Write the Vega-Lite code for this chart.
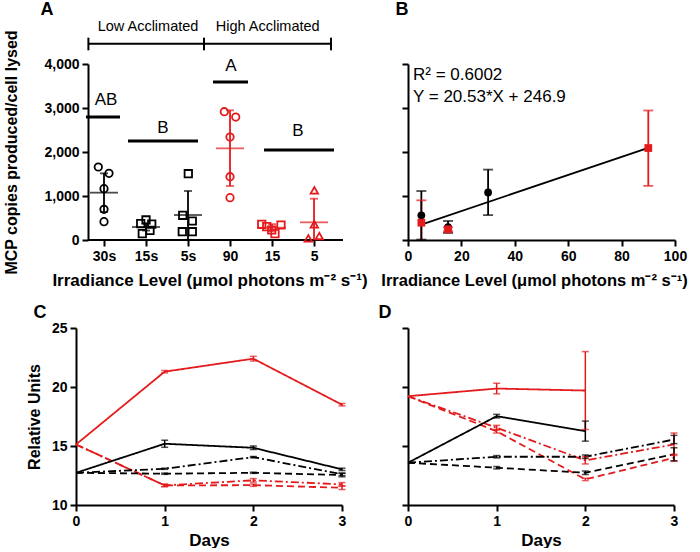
{
  "$schema": "https://vega.github.io/schema/vega-lite/v6.json",
  "background": "white",
  "padding": {"left": 3, "top": 0, "right": 0, "bottom": 0},
  "bounds": "flush",
  "columns": 2,
  "spacing": {"row": 88, "column": 65},
  "datasets": {
    "aBase": [{"x": 0.619, "x2": 6.69, "y": 0}],
    "aPts": [
      {"grp": "30s", "acclim": "Low", "x": 0.864, "value": 1659},
      {"grp": "30s", "acclim": "Low", "x": 1.119, "value": 1515},
      {"grp": "30s", "acclim": "Low", "x": 1.0, "value": 1167},
      {"grp": "30s", "acclim": "Low", "x": 1.0, "value": 697},
      {"grp": "30s", "acclim": "Low", "x": 1.0, "value": 417},
      {"grp": "15s", "acclim": "Low", "x": 2.0, "value": 455},
      {"grp": "15s", "acclim": "Low", "x": 1.874, "value": 371},
      {"grp": "15s", "acclim": "Low", "x": 2.136, "value": 360},
      {"grp": "15s", "acclim": "Low", "x": 1.912, "value": 144},
      {"grp": "15s", "acclim": "Low", "x": 2.095, "value": 220},
      {"grp": "5s", "acclim": "Low", "x": 3.007, "value": 1507},
      {"grp": "5s", "acclim": "Low", "x": 2.874, "value": 561},
      {"grp": "5s", "acclim": "Low", "x": 3.102, "value": 432},
      {"grp": "5s", "acclim": "Low", "x": 2.864, "value": 189},
      {"grp": "5s", "acclim": "Low", "x": 3.102, "value": 189},
      {"grp": "90", "acclim": "High", "x": 3.864, "value": 2916},
      {"grp": "90", "acclim": "High", "x": 4.136, "value": 2795},
      {"grp": "90", "acclim": "High", "x": 4.0, "value": 2341},
      {"grp": "90", "acclim": "High", "x": 4.0, "value": 1439},
      {"grp": "90", "acclim": "High", "x": 4.0, "value": 962},
      {"grp": "15", "acclim": "High", "x": 4.755, "value": 356},
      {"grp": "15", "acclim": "High", "x": 4.874, "value": 303},
      {"grp": "15", "acclim": "High", "x": 5.214, "value": 341},
      {"grp": "15", "acclim": "High", "x": 4.993, "value": 227},
      {"grp": "15", "acclim": "High", "x": 5.071, "value": 144},
      {"grp": "5", "acclim": "High", "x": 6.007, "value": 1129},
      {"grp": "5", "acclim": "High", "x": 6.007, "value": 356},
      {"grp": "5", "acclim": "High", "x": 5.864, "value": 38},
      {"grp": "5", "acclim": "High", "x": 6.126, "value": 90}
    ],
    "aSum": [
      {"x": 1, "acclim": "Low", "mean": 1076, "lo": 636, "hi": 1515},
      {"x": 2, "acclim": "Low", "mean": 295, "lo": 215, "hi": 380},
      {"x": 3, "acclim": "Low", "mean": 568, "lo": 5, "hi": 1114},
      {"x": 4, "acclim": "High", "mean": 2083, "lo": 1227, "hi": 2947},
      {"x": 5, "acclim": "High", "mean": 280, "lo": 200, "hi": 360},
      {"x": 6, "acclim": "High", "mean": 402, "lo": -135, "hi": 939}
    ],
    "aSig": [
      {"x": 0.571, "x2": 1.381, "y": 2795, "label": "AB", "tx": 1.048, "ty": 3180},
      {"x": 1.571, "x2": 3.238, "y": 2250, "label": "B", "tx": 2.405, "ty": 2545},
      {"x": 3.595, "x2": 4.429, "y": 3590, "label": "A", "tx": 4.024, "ty": 3955},
      {"x": 4.81, "x2": 6.476, "y": 2045, "label": "B", "tx": 5.619, "ty": 2477}
    ],
    "aBr": [{"x": 0.6286, "x2": 6.405, "y": 4461}],
    "aCap": [
      {"x": 0.6286, "y": 4311, "y2": 4598},
      {"x": 3.381, "y": 4311, "y2": 4598},
      {"x": 6.405, "y": 4311, "y2": 4598}
    ],
    "aLab": [
      {"x": 2.048, "y": 4841, "label": "Low Acclimated"},
      {"x": 4.897, "y": 4841, "label": "High Acclimated"}
    ],
    "aLetter": [{"x": -0.357, "y": 5230, "label": "A"}],
    "bFit": [{"x": 5, "value": 349.55}, {"x": 90, "value": 2094.6}],
    "bPts": [
      {"x": 5, "acclim": "High", "value": 393, "lo": -115, "hi": 902},
      {"x": 15, "acclim": "High", "value": 243, "lo": 200, "hi": 290},
      {"x": 90, "acclim": "High", "value": 2090, "lo": 1230, "hi": 2943},
      {"x": 5, "acclim": "Low", "value": 561, "lo": 10, "hi": 1113},
      {"x": 15, "acclim": "Low", "value": 295, "lo": 160, "hi": 432},
      {"x": 30, "acclim": "Low", "value": 1082, "lo": 566, "hi": 1600}
    ],
    "bText": [
      {"x": 1.87, "y": 3750, "label": "R² = 0.6002"},
      {"x": 1.87, "y": 3250, "label": "Y = 20.53*X + 246.9"}
    ],
    "bLetter": [{"x": -2.25, "y": 5230, "label": "B"}],
    "c": [
      {"acclim": "High", "shift": "Ctrl", "series": "High-90", "day": 0, "value": 15.13},
      {"acclim": "High", "shift": "Ctrl", "series": "High-90", "day": 1, "value": 21.3, "lo": 21.2, "hi": 21.4},
      {"acclim": "High", "shift": "Ctrl", "series": "High-90", "day": 2, "value": 22.4, "lo": 22.2, "hi": 22.6},
      {"acclim": "High", "shift": "Ctrl", "series": "High-90", "day": 3, "value": 18.5, "lo": 18.4, "hi": 18.6},
      {"acclim": "High", "shift": "15", "series": "High-15", "day": 0, "value": 15.13},
      {"acclim": "High", "shift": "15", "series": "High-15", "day": 1, "value": 11.66, "lo": 11.56, "hi": 11.76},
      {"acclim": "High", "shift": "15", "series": "High-15", "day": 2, "value": 11.68, "lo": 11.58, "hi": 11.78},
      {"acclim": "High", "shift": "15", "series": "High-15", "day": 3, "value": 11.46, "lo": 11.31, "hi": 11.61},
      {"acclim": "High", "shift": "5", "series": "High-5", "day": 0, "value": 15.13},
      {"acclim": "High", "shift": "5", "series": "High-5", "day": 1, "value": 11.66, "lo": 11.56, "hi": 11.76},
      {"acclim": "High", "shift": "5", "series": "High-5", "day": 2, "value": 12.09, "lo": 11.94, "hi": 12.24},
      {"acclim": "High", "shift": "5", "series": "High-5", "day": 3, "value": 11.75, "lo": 11.6, "hi": 11.9},
      {"acclim": "Low", "shift": "Ctrl", "series": "Low-30", "day": 0, "value": 12.73},
      {"acclim": "Low", "shift": "Ctrl", "series": "Low-30", "day": 1, "value": 15.19, "lo": 14.89, "hi": 15.49},
      {"acclim": "Low", "shift": "Ctrl", "series": "Low-30", "day": 2, "value": 14.85, "lo": 14.7, "hi": 15.0},
      {"acclim": "Low", "shift": "Ctrl", "series": "Low-30", "day": 3, "value": 13.02, "lo": 12.92, "hi": 13.12},
      {"acclim": "Low", "shift": "15", "series": "Low-15", "day": 0, "value": 12.73},
      {"acclim": "Low", "shift": "15", "series": "Low-15", "day": 1, "value": 12.65, "lo": 12.6, "hi": 12.7},
      {"acclim": "Low", "shift": "15", "series": "Low-15", "day": 2, "value": 12.73, "lo": 12.68, "hi": 12.78},
      {"acclim": "Low", "shift": "15", "series": "Low-15", "day": 3, "value": 12.54, "lo": 12.39, "hi": 12.69},
      {"acclim": "Low", "shift": "5", "series": "Low-5", "day": 0, "value": 12.73},
      {"acclim": "Low", "shift": "5", "series": "Low-5", "day": 1, "value": 13.07, "lo": 13.02, "hi": 13.12},
      {"acclim": "Low", "shift": "5", "series": "Low-5", "day": 2, "value": 14.06, "lo": 14.01, "hi": 14.11},
      {"acclim": "Low", "shift": "5", "series": "Low-5", "day": 3, "value": 12.6, "lo": 12.5, "hi": 12.7}
    ],
    "d": [
      {"acclim": "High", "shift": "Ctrl", "series": "High-90", "day": 0, "value": 19.22},
      {"acclim": "High", "shift": "Ctrl", "series": "High-90", "day": 1, "value": 19.87, "lo": 19.42, "hi": 20.32},
      {"acclim": "High", "shift": "Ctrl", "series": "High-90", "day": 2, "value": 19.7, "lo": 16.4, "hi": 23.0},
      {"acclim": "High", "shift": "15", "series": "High-15", "day": 0, "value": 19.22},
      {"acclim": "High", "shift": "15", "series": "High-15", "day": 1, "value": 16.25, "lo": 16.1, "hi": 16.4},
      {"acclim": "High", "shift": "15", "series": "High-15", "day": 2, "value": 12.17, "lo": 12.07, "hi": 12.27},
      {"acclim": "High", "shift": "15", "series": "High-15", "day": 3, "value": 14.0, "lo": 13.7, "hi": 14.3},
      {"acclim": "High", "shift": "5", "series": "High-5", "day": 0, "value": 19.22},
      {"acclim": "High", "shift": "5", "series": "High-5", "day": 1, "value": 16.55, "lo": 16.35, "hi": 16.75},
      {"acclim": "High", "shift": "5", "series": "High-5", "day": 2, "value": 13.78, "lo": 13.48, "hi": 14.08},
      {"acclim": "High", "shift": "5", "series": "High-5", "day": 3, "value": 15.13, "lo": 14.2, "hi": 16.1},
      {"acclim": "Low", "shift": "Ctrl", "series": "Low-30", "day": 0, "value": 13.58},
      {"acclim": "Low", "shift": "Ctrl", "series": "Low-30", "day": 1, "value": 17.53, "lo": 17.38, "hi": 17.68},
      {"acclim": "Low", "shift": "Ctrl", "series": "Low-30", "day": 2, "value": 16.26, "lo": 15.41, "hi": 17.11},
      {"acclim": "Low", "shift": "15", "series": "Low-15", "day": 0, "value": 13.58},
      {"acclim": "Low", "shift": "15", "series": "Low-15", "day": 1, "value": 13.16, "lo": 13.06, "hi": 13.26},
      {"acclim": "Low", "shift": "15", "series": "Low-15", "day": 2, "value": 12.73, "lo": 12.58, "hi": 12.88},
      {"acclim": "Low", "shift": "15", "series": "Low-15", "day": 3, "value": 14.3, "lo": 13.75, "hi": 14.85},
      {"acclim": "Low", "shift": "5", "series": "Low-5", "day": 0, "value": 13.58},
      {"acclim": "Low", "shift": "5", "series": "Low-5", "day": 1, "value": 14.09, "lo": 13.99, "hi": 14.19},
      {"acclim": "Low", "shift": "5", "series": "Low-5", "day": 2, "value": 14.09, "lo": 13.94, "hi": 14.24},
      {"acclim": "Low", "shift": "5", "series": "Low-5", "day": 3, "value": 15.55, "lo": 15.2, "hi": 15.9}
    ],
    "cLetter": [{"x": -0.406, "y": 26.27, "label": "C"}],
    "dLetter": [{"x": -0.26, "y": 26.27, "label": "D"}]
  },
  "concat": [
    {
      "width": 267,
      "height": 176,
      "layer": [
        {
          "data": {"name": "aBase"},
          "mark": {"type": "rule", "strokeWidth": 2, "color": "black"},
          "encoding": {
            "x": {"field": "x", "type": "quantitative", "scale": {"domain": [0.3333, 6.69], "nice": false, "zero": false},
              "axis": {"values": [1, 2, 3, 4, 5, 6], "labelExpr": "datum.value==1?'30s':datum.value==2?'15s':datum.value==3?'5s':datum.value==4?'90':datum.value==5?'15':'5'", "title": "Irradiance Level (μmol photons m⁻² s⁻¹)", "titleFontSize": 17, "domain": false, "titlePadding": 9}},
            "x2": {"field": "x2"},
            "y": {"field": "y", "type": "quantitative", "scale": {"domain": [0, 4000], "nice": false},
              "axis": {"values": [0, 1000, 2000, 3000, 4000], "format": ",.0f", "offset": -12, "title": "MCP copies produced/cell lysed", "titlePadding": 24}}
          }
        },
        {
          "data": {"name": "aSum"},
          "mark": {"type": "rule", "strokeWidth": 1.8, "clip": true},
          "encoding": {
            "x": {"field": "x", "type": "quantitative"},
            "y": {"field": "lo", "type": "quantitative"},
            "y2": {"field": "hi"},
            "color": {"field": "acclim", "type": "nominal", "scale": {"domain": ["Low", "High"], "range": ["black", "#e41a1c"]}, "legend": null}
          }
        },
        {
          "data": {"name": "aSum"},
          "mark": {"type": "tick", "orient": "horizontal", "size": 8, "thickness": 1.8, "clip": true},
          "encoding": {
            "x": {"field": "x", "type": "quantitative"},
            "y": {"field": "lo", "type": "quantitative"},
            "color": {"field": "acclim", "type": "nominal", "legend": null}
          }
        },
        {
          "data": {"name": "aSum"},
          "mark": {"type": "tick", "orient": "horizontal", "size": 8, "thickness": 1.8},
          "encoding": {
            "x": {"field": "x", "type": "quantitative"},
            "y": {"field": "hi", "type": "quantitative"},
            "color": {"field": "acclim", "type": "nominal", "legend": null}
          }
        },
        {
          "data": {"name": "aSum"},
          "mark": {"type": "tick", "orient": "horizontal", "size": 28, "thickness": 1.8},
          "encoding": {
            "x": {"field": "x", "type": "quantitative"},
            "y": {"field": "mean", "type": "quantitative"},
            "color": {"field": "acclim", "type": "nominal", "legend": null}
          }
        },
        {
          "data": {"name": "aPts"},
          "mark": {"type": "point", "filled": false, "strokeWidth": 1.8, "size": 55, "opacity": 1},
          "encoding": {
            "x": {"field": "x", "type": "quantitative"},
            "y": {"field": "value", "type": "quantitative"},
            "color": {"field": "acclim", "type": "nominal", "legend": null},
            "shape": {"field": "grp", "type": "nominal", "scale": {"domain": ["30s", "15s", "5s", "90", "15", "5"], "range": ["circle", "square", "square", "circle", "square", "triangle-up"]}, "legend": null}
          }
        },
        {
          "data": {"name": "aSig"},
          "mark": {"type": "rule", "strokeWidth": 3, "color": "black"},
          "encoding": {
            "x": {"field": "x", "type": "quantitative"},
            "x2": {"field": "x2"},
            "y": {"field": "y", "type": "quantitative"}
          }
        },
        {
          "data": {"name": "aSig"},
          "mark": {"type": "text", "fontSize": 17, "color": "black", "baseline": "middle", "align": "center"},
          "encoding": {
            "x": {"field": "tx", "type": "quantitative"},
            "y": {"field": "ty", "type": "quantitative"},
            "text": {"field": "label"}
          }
        },
        {
          "data": {"name": "aBr"},
          "mark": {"type": "rule", "strokeWidth": 2, "color": "black"},
          "encoding": {
            "x": {"field": "x", "type": "quantitative"},
            "x2": {"field": "x2"},
            "y": {"field": "y", "type": "quantitative"}
          }
        },
        {
          "data": {"name": "aCap"},
          "mark": {"type": "rule", "strokeWidth": 2, "color": "black"},
          "encoding": {
            "x": {"field": "x", "type": "quantitative"},
            "y": {"field": "y", "type": "quantitative"},
            "y2": {"field": "y2"}
          }
        },
        {
          "data": {"name": "aLab"},
          "mark": {"type": "text", "fontSize": 14.5, "color": "black", "baseline": "middle", "align": "center"},
          "encoding": {
            "x": {"field": "x", "type": "quantitative"},
            "y": {"field": "y", "type": "quantitative"},
            "text": {"field": "label"}
          }
        },
        {
          "data": {"name": "aLetter"},
          "mark": {"type": "text", "fontSize": 18, "fontWeight": "bold", "color": "black", "baseline": "middle", "align": "center"},
          "encoding": {
            "x": {"field": "x", "type": "quantitative"},
            "y": {"field": "y", "type": "quantitative"},
            "text": {"field": "label"}
          }
        }
      ]
    },
    {
      "width": 267,
      "height": 176,
      "layer": [
        {
          "data": {"name": "bFit"},
          "mark": {"type": "line", "strokeWidth": 1.8, "color": "black"},
          "encoding": {
            "x": {"field": "x", "type": "quantitative", "scale": {"domain": [0, 100], "nice": false},
              "axis": {"values": [0, 20, 40, 60, 80, 100], "format": "d", "title": "Irradiance Level (μmol photons m⁻² s⁻¹)", "titleFontSize": 16.5, "titleX": 126, "titlePadding": 9}},
            "y": {"field": "value", "type": "quantitative", "scale": {"domain": [0, 4000], "nice": false},
              "axis": {"values": [0, 1000, 2000, 3000, 4000], "labels": false, "title": ""}}
          }
        },
        {
          "data": {"name": "bPts"},
          "mark": {"type": "rule", "strokeWidth": 1.8, "clip": true},
          "encoding": {
            "x": {"field": "x", "type": "quantitative"},
            "y": {"field": "lo", "type": "quantitative"},
            "y2": {"field": "hi"},
            "color": {"field": "acclim", "type": "nominal", "scale": {"domain": ["Low", "High"], "range": ["black", "#e41a1c"]}, "legend": null}
          }
        },
        {
          "data": {"name": "bPts"},
          "mark": {"type": "tick", "orient": "horizontal", "size": 10, "thickness": 1.8, "clip": true},
          "encoding": {
            "x": {"field": "x", "type": "quantitative"},
            "y": {"field": "lo", "type": "quantitative"},
            "color": {"field": "acclim", "type": "nominal", "legend": null}
          }
        },
        {
          "data": {"name": "bPts"},
          "mark": {"type": "tick", "orient": "horizontal", "size": 10, "thickness": 1.8},
          "encoding": {
            "x": {"field": "x", "type": "quantitative"},
            "y": {"field": "hi", "type": "quantitative"},
            "color": {"field": "acclim", "type": "nominal", "legend": null}
          }
        },
        {
          "data": {"name": "bPts"},
          "mark": {"type": "point", "filled": true, "size": 60, "opacity": 1},
          "encoding": {
            "x": {"field": "x", "type": "quantitative"},
            "y": {"field": "value", "type": "quantitative"},
            "color": {"field": "acclim", "type": "nominal", "legend": null},
            "shape": {"field": "acclim", "type": "nominal", "scale": {"domain": ["Low", "High"], "range": ["circle", "square"]}, "legend": null},
            "order": {"field": "acclim", "sort": "descending"}
          }
        },
        {
          "data": {"name": "bText"},
          "mark": {"type": "text", "fontSize": 17, "color": "black", "baseline": "middle", "align": "left"},
          "encoding": {
            "x": {"field": "x", "type": "quantitative"},
            "y": {"field": "y", "type": "quantitative"},
            "text": {"field": "label"}
          }
        },
        {
          "data": {"name": "bLetter"},
          "mark": {"type": "text", "fontSize": 18, "fontWeight": "bold", "color": "black", "baseline": "middle", "align": "center"},
          "encoding": {
            "x": {"field": "x", "type": "quantitative"},
            "y": {"field": "y", "type": "quantitative"},
            "text": {"field": "label"}
          }
        }
      ]
    },
    {
      "width": 266,
      "height": 177,
      "layer": [
        {
          "data": {"name": "c"},
          "mark": {"type": "line", "strokeWidth": 1.8},
          "encoding": {
            "x": {"field": "day", "type": "quantitative", "scale": {"domain": [0, 3], "nice": false},
              "axis": {"values": [0, 1, 2, 3], "format": "d", "title": "Days", "titleFontSize": 17, "titlePadding": 4}},
            "y": {"field": "value", "type": "quantitative", "scale": {"domain": [10, 25], "nice": false, "zero": false},
              "axis": {"values": [10, 15, 20, 25], "format": "d", "title": "Relative Units", "titlePadding": 9}},
            "color": {"field": "acclim", "type": "nominal", "scale": {"domain": ["Low", "High"], "range": ["black", "#e41a1c"]}, "legend": null},
            "strokeDash": {"field": "shift", "type": "nominal", "scale": {"domain": ["Ctrl", "15", "5"], "range": [[1, 0], [7, 4], [8, 3, 2, 3]]}, "legend": null},
            "detail": {"field": "series"}
          }
        },
        {
          "data": {"name": "c"},
          "mark": {"type": "rule", "strokeWidth": 1.5},
          "encoding": {
            "x": {"field": "day", "type": "quantitative"},
            "y": {"field": "lo", "type": "quantitative"},
            "y2": {"field": "hi"},
            "color": {"field": "acclim", "type": "nominal", "legend": null}
          }
        },
        {
          "data": {"name": "c"},
          "mark": {"type": "tick", "orient": "horizontal", "size": 7, "thickness": 1.5},
          "encoding": {
            "x": {"field": "day", "type": "quantitative"},
            "y": {"field": "lo", "type": "quantitative"},
            "color": {"field": "acclim", "type": "nominal", "legend": null}
          }
        },
        {
          "data": {"name": "c"},
          "mark": {"type": "tick", "orient": "horizontal", "size": 7, "thickness": 1.5},
          "encoding": {
            "x": {"field": "day", "type": "quantitative"},
            "y": {"field": "hi", "type": "quantitative"},
            "color": {"field": "acclim", "type": "nominal", "legend": null}
          }
        },
        {
          "data": {"name": "cLetter"},
          "mark": {"type": "text", "fontSize": 18, "fontWeight": "bold", "color": "black", "baseline": "middle", "align": "center"},
          "encoding": {
            "x": {"field": "x", "type": "quantitative"},
            "y": {"field": "y", "type": "quantitative"},
            "text": {"field": "label"}
          }
        }
      ]
    },
    {
      "width": 266,
      "height": 177,
      "layer": [
        {
          "data": {"name": "d"},
          "mark": {"type": "line", "strokeWidth": 1.8},
          "encoding": {
            "x": {"field": "day", "type": "quantitative", "scale": {"domain": [0, 3], "nice": false},
              "axis": {"values": [0, 1, 2, 3], "format": "d", "title": "Days", "titleFontSize": 17, "titlePadding": 4}},
            "y": {"field": "value", "type": "quantitative", "scale": {"domain": [10, 25], "nice": false, "zero": false},
              "axis": {"values": [10, 15, 20, 25], "labels": false, "title": ""}},
            "color": {"field": "acclim", "type": "nominal", "scale": {"domain": ["Low", "High"], "range": ["black", "#e41a1c"]}, "legend": null},
            "strokeDash": {"field": "shift", "type": "nominal", "scale": {"domain": ["Ctrl", "15", "5"], "range": [[1, 0], [7, 4], [8, 3, 2, 3]]}, "legend": null},
            "detail": {"field": "series"}
          }
        },
        {
          "data": {"name": "d"},
          "mark": {"type": "rule", "strokeWidth": 1.5},
          "encoding": {
            "x": {"field": "day", "type": "quantitative"},
            "y": {"field": "lo", "type": "quantitative"},
            "y2": {"field": "hi"},
            "color": {"field": "acclim", "type": "nominal", "legend": null}
          }
        },
        {
          "data": {"name": "d"},
          "mark": {"type": "tick", "orient": "horizontal", "size": 7, "thickness": 1.5},
          "encoding": {
            "x": {"field": "day", "type": "quantitative"},
            "y": {"field": "lo", "type": "quantitative"},
            "color": {"field": "acclim", "type": "nominal", "legend": null}
          }
        },
        {
          "data": {"name": "d"},
          "mark": {"type": "tick", "orient": "horizontal", "size": 7, "thickness": 1.5},
          "encoding": {
            "x": {"field": "day", "type": "quantitative"},
            "y": {"field": "hi", "type": "quantitative"},
            "color": {"field": "acclim", "type": "nominal", "legend": null}
          }
        },
        {
          "data": {"name": "dLetter"},
          "mark": {"type": "text", "fontSize": 18, "fontWeight": "bold", "color": "black", "baseline": "middle", "align": "center"},
          "encoding": {
            "x": {"field": "x", "type": "quantitative"},
            "y": {"field": "y", "type": "quantitative"},
            "text": {"field": "label"}
          }
        }
      ]
    }
  ],
  "config": {
    "font": "Liberation Sans",
    "view": {"stroke": null},
    "axis": {
      "grid": false,
      "domainColor": "black",
      "domainWidth": 2,
      "tickColor": "black",
      "tickWidth": 2,
      "tickSize": 6,
      "labelColor": "black",
      "labelFont": "Liberation Sans",
      "labelFontSize": 14,
      "labelFontWeight": "bold",
      "labelPadding": 3,
      "labelFlush": false,
      "titleColor": "black",
      "titleFont": "Liberation Sans",
      "titleFontSize": 16,
      "titleFontWeight": "bold"
    }
  }
}
